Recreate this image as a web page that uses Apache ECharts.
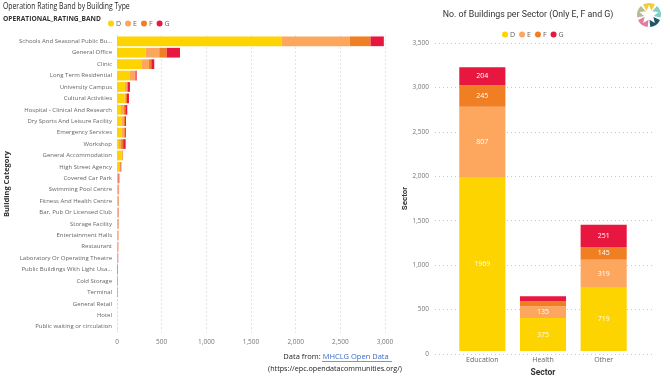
<!DOCTYPE html>
<html><head><meta charset="utf-8">
<script src="https://cdn.jsdelivr.net/npm/echarts@6/dist/echarts.min.js"></script>
<style>html,body{margin:0;padding:0;background:#fff}#c{width:670px;height:382px}</style>
</head><body><div id="c"></div>
<script>
// ---- Left chart data ----
const categories = ['Schools And Seasonal Public Bu...','General Office','Clinic','Long Term Residential','University Campus','Cultural Activities','Hospital - Clinical And Research','Dry Sports And Leisure Facility','Emergency Services','Workshop','General Accommodation','High Street Agency','Covered Car Park','Swimming Pool Centre','Fitness And Health Centre','Bar, Pub Or Licensed Club','Storage Facility','Entertainment Halls','Restaurant','Laboratory Or Operating Theatre','Public Buildings With Light Usa...','Cold Storage','Terminal','General Retail','Hotel','Public waiting or circulation'];
const typeD = [1842,321,272,145,89,86,45,52,50,22,50,25,4,6,8,4,4,3,2,1,0,0,0,3,2,0];
const typeE = [764,152,86,56,19,14,33,26,30,22,17,10,8,12,10,11,10,10,9,7,4,3,2,0,0,2];
const typeF = [232,83,26,8,12,12,15,12,12,25,0,8,6,3,3,3,3,3,3,3,2,1,1,0,0,0];
const typeG = [149,149,33,11,25,22,22,11,9,28,0,5,8,2,1,2,2,1,1,2,4,3,3,0,0,0];
const xTicksLeft = [0,500,1000,1500,2000,2500,3000];

// ---- Right chart data ----
const sectors = ['Education','Health','Other'];
const sectorD = [1969,375,719];
const sectorE = [807,135,319];
const sectorF = [245,55,145];
const sectorG = [204,58,251];
const yTicksRight = [0,500,1000,1500,2000,2500,3000,3500];

const bands = ['D','E','F','G'];
const colors = ['#FDD300','#FDA65E','#F07E22','#E8173F'];
const leftData = [typeD,typeE,typeF,typeG];
const rightData = [sectorD,sectorE,sectorF,sectorG];

const fontA = 'Open Sans';
const fontB = 'Roboto';
const fmt = v => Number(v).toLocaleString('en-US');

const series = [];
bands.forEach((b,i)=>{
  series.push({name:b,type:'bar',stack:'L',xAxisIndex:0,yAxisIndex:0,data:leftData[i],
    itemStyle:{color:colors[i]},barCategoryGap:'15%',emphasis:{disabled:true}});
});
bands.forEach((b,i)=>{
  series.push({name:b,type:'bar',stack:'R',xAxisIndex:1,yAxisIndex:1,data:rightData[i],
    itemStyle:{color:colors[i]},barCategoryGap:'24%',emphasis:{disabled:true},
    label:{show:true,position:'inside',color:'#fff',fontSize:7,fontFamily:fontA,
      formatter:p=>p.value>=100?String(p.value):''}});
});

// logo graphics
const lc=[649,15], petalCols=['#F4CC3A','#7ECFC6','#1E5568','#E07EA0','#B8BC8E'];
const logo=[];
petalCols.forEach((c,k)=>{
  const a0 = -90 + k*72 - 30, a1 = a0 + 60;
  logo.push({type:'sector',shape:{cx:lc[0],cy:lc[1],r:12,r0:0,startAngle:a0*Math.PI/180,endAngle:a1*Math.PI/180},style:{fill:c},silent:true});
});
const starPts=[];
for(let k=0;k<10;k++){const r=k%2===0?10:4.5;const a=(-90+k*36)*Math.PI/180;starPts.push([lc[0]+r*Math.cos(a),lc[1]+r*Math.sin(a)]);}
logo.push({type:'polygon',shape:{points:starPts},style:{fill:'#fff'},silent:true});

const option = {
  animation:false,
  backgroundColor:'#fff',
  legend:[
    {data:bands,left:103,top:15,icon:'circle',itemWidth:6,itemHeight:6,itemGap:4,
     textStyle:{fontSize:7,color:'#605E5C',fontFamily:fontA,padding:[0,0,0,-3]}},
    {data:bands,left:497,top:26,icon:'circle',itemWidth:6,itemHeight:6,itemGap:4,
     textStyle:{fontSize:7,color:'#605E5C',fontFamily:fontA,padding:[0,0,0,-3]}}
  ],
  grid:[
    {left:117,right:285,top:35.6,bottom:49.6},
    {left:452,right:36,top:43,bottom:28},
    {left:435,right:17,top:43,bottom:28}
  ],
  xAxis:[
    {type:'value',gridIndex:0,min:0,max:3000,interval:500,
     axisLine:{show:false},axisTick:{show:false},
     axisLabel:{fontSize:6.5,color:'#777',fontFamily:fontA,margin:6,formatter:fmt},
     splitLine:{lineStyle:{type:[1,3],color:'#c8c8c8'}}},
    {type:'category',gridIndex:1,data:sectors,
     axisLine:{show:false},axisTick:{show:false},
     axisLabel:{fontSize:7,color:'#666',fontFamily:fontA,margin:5},
     name:'Sector',nameLocation:'middle',nameGap:16,
     nameTextStyle:{fontSize:8.5,fontWeight:'bold',color:'#333',fontFamily:fontB}},
    {type:'value',gridIndex:2,min:0,max:1,show:false}
  ],
  yAxis:[
    {type:'category',gridIndex:0,data:categories,inverse:true,
     axisLine:{show:false},axisTick:{show:false},
     axisLabel:{fontSize:6,color:'#666',fontFamily:fontA,margin:5},
     name:'Building Category',nameLocation:'middle',nameGap:106,nameRotate:90,
     nameTextStyle:{fontSize:7.5,fontWeight:'bold',color:'#333',fontFamily:fontA}},
    {type:'value',gridIndex:1,min:0,max:3500,interval:500,show:false},
    {type:'value',gridIndex:2,min:0,max:3500,interval:500,
     axisLine:{show:false},axisTick:{show:false},
     axisLabel:{fontSize:6.5,color:'#777',fontFamily:fontA,margin:6,formatter:fmt},
     splitLine:{lineStyle:{type:[1,3],color:'#c8c8c8'}},
     name:'Sector',nameLocation:'middle',nameGap:25,nameRotate:90,
     nameTextStyle:{fontSize:8,fontWeight:'bold',color:'#333',fontFamily:fontB}}
  ],
  graphic:[
    {type:'text',x:3,y:6.5,scaleX:0.72,style:{text:'Operation Rating Band by Building Type',fontSize:9.5,fontFamily:fontA,fill:'#252423',verticalAlign:'middle'}},
    {type:'text',left:3,top:16,style:{text:'OPERATIONAL_RATING_BAND',fontSize:6.7,fontWeight:'bold',fontFamily:fontA,fill:'#333'}},
    {type:'text',x:528,y:15,style:{text:'No. of Buildings per Sector (Only E, F and G)',fontSize:8.8,fontFamily:fontB,fill:'#333',align:'center',verticalAlign:'middle'}},
    {type:'text',x:336,y:357,style:{text:'Data from: {l|MHCLG Open Data}',fontSize:7.5,fontFamily:fontA,fill:'#252423',align:'center',verticalAlign:'middle',
      rich:{l:{fontSize:7.5,fontFamily:fontA,fill:'#3A6BC6',color:'#3A6BC6'}}}},
    {type:'line',shape:{x1:322,y1:361.5,x2:392,y2:361.5},style:{stroke:'#3A6BC6',lineWidth:0.7}},
    {type:'text',x:335,y:368.5,style:{text:'(https://epc.opendatacommunities.org/)',fontSize:7.2,fontFamily:fontA,fill:'#252423',align:'center',verticalAlign:'middle'}}
  ].concat(logo),
  series:series
};
const chart = echarts.init(document.getElementById('c'),null,{renderer:'canvas'});
chart.setOption(option);
</script></body></html>
